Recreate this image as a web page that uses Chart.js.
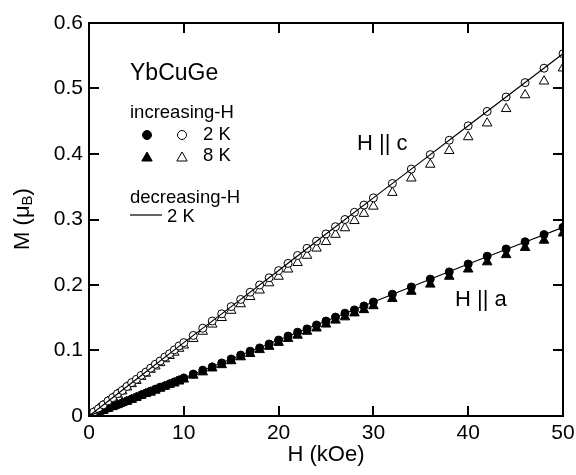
<!DOCTYPE html>
<html>
<head>
<meta charset="utf-8">
<script src="https://cdn.jsdelivr.net/npm/chart.js@4.4.0/dist/chart.umd.min.js"></script>
<style>
  html, body { margin: 0; padding: 0; background: #fff; }
</style>
</head>
<body>
<canvas id="chart-mh" width="576" height="475"></canvas>
<script>
"use strict";

const FONT = "'Liberation Sans', Arial, Helvetica, sans-serif";

/* ==========================================================
   DATA  (M in muB per Yb, H in kOe)
   ========================================================== */
// increasing-H sweep fields
const fieldUp = [
  0, 0.5, 1, 1.5, 2, 2.5, 3, 3.5, 4, 4.5, 5, 5.5, 6, 6.5, 7, 7.5, 8, 8.5, 9, 9.5, 10,
  11, 12, 13, 14, 15, 16, 17, 18, 19, 20, 21, 22, 23, 24, 25, 26, 27, 28, 29, 30,
  32, 34, 36, 38, 40, 42, 44, 46, 48, 50
];

// H || c
const mC2K = [
  0, 0.006, 0.011, 0.017, 0.023, 0.028, 0.034, 0.039, 0.045, 0.051, 0.056, 0.062, 0.067, 0.073, 0.079, 0.084, 0.090, 0.095, 0.101, 0.107, 0.112,
  0.123, 0.134, 0.145, 0.156, 0.167, 0.178, 0.189, 0.200, 0.211, 0.222, 0.233, 0.245, 0.256, 0.267, 0.278, 0.289, 0.300, 0.311, 0.322, 0.333,
  0.355, 0.377, 0.399, 0.421, 0.443, 0.465, 0.487, 0.509, 0.531, 0.553
];
const mC8K = [
  0, 0.005, 0.011, 0.016, 0.022, 0.027, 0.033, 0.038, 0.044, 0.049, 0.054, 0.060, 0.065, 0.071, 0.076, 0.081, 0.087, 0.092, 0.097, 0.103, 0.108,
  0.118, 0.129, 0.140, 0.150, 0.161, 0.171, 0.182, 0.192, 0.203, 0.213, 0.224, 0.234, 0.245, 0.256, 0.266, 0.277, 0.287, 0.298, 0.309, 0.320,
  0.341, 0.363, 0.384, 0.405, 0.426, 0.447, 0.469, 0.490, 0.511, 0.531
];

// H || a
const mA2K = [
  0, 0.003, 0.006, 0.009, 0.012, 0.015, 0.017, 0.020, 0.023, 0.026, 0.029, 0.032, 0.035, 0.038, 0.041, 0.044, 0.046, 0.049, 0.052, 0.055, 0.058,
  0.064, 0.070, 0.075, 0.081, 0.087, 0.093, 0.099, 0.104, 0.110, 0.116, 0.122, 0.128, 0.133, 0.139, 0.145, 0.151, 0.157, 0.162, 0.168, 0.174,
  0.186, 0.197, 0.209, 0.220, 0.232, 0.244, 0.255, 0.266, 0.277, 0.288
];
const mA8K = [
  0, 0.003, 0.006, 0.008, 0.011, 0.014, 0.017, 0.020, 0.022, 0.025, 0.028, 0.031, 0.034, 0.036, 0.039, 0.042, 0.045, 0.048, 0.050, 0.053, 0.056,
  0.062, 0.067, 0.073, 0.078, 0.084, 0.090, 0.095, 0.101, 0.106, 0.112, 0.118, 0.123, 0.129, 0.134, 0.140, 0.146, 0.151, 0.157, 0.162, 0.168,
  0.179, 0.190, 0.201, 0.213, 0.224, 0.235, 0.246, 0.257, 0.268, 0.279
];

// decreasing-H sweep at 2 K (solid lines)
const fieldDown = [0, 5, 10, 15, 20, 25, 30, 35, 40, 45, 50];
const mCdown = [0, 0.056, 0.112, 0.167, 0.222, 0.278, 0.333, 0.388, 0.443, 0.498, 0.553];
const mAdown = [0, 0.029, 0.058, 0.087, 0.116, 0.145, 0.174, 0.203, 0.232, 0.260, 0.288];

const xTicks = [0, 10, 20, 30, 40, 50];
const yTicks = [0, 0.1, 0.2, 0.3, 0.4, 0.5, 0.6];

/* ==========================================================
   HELPERS
   ========================================================== */
function pts(xs, ys) {
  return xs.map((x, i) => ({ x, y: ys[i] }));
}

function markCircle(ctx, x, y, r, filled) {
  ctx.beginPath();
  ctx.arc(x, y, r, 0, Math.PI * 2);
  ctx.fillStyle = filled ? "#000" : "#fff";
  ctx.fill();
  ctx.lineWidth = 1;
  ctx.strokeStyle = "#000";
  ctx.stroke();
}

function markTriangle(ctx, x, y, r, filled) {
  const a = Math.PI * 2 / 3;
  ctx.beginPath();
  for (let i = 0; i < 3; i++) {
    const px = x + Math.sin(i * a) * r;
    const py = y - Math.cos(i * a) * r;
    if (i === 0) ctx.moveTo(px, py); else ctx.lineTo(px, py);
  }
  ctx.closePath();
  ctx.fillStyle = filled ? "#000" : "#fff";
  ctx.fill();
  ctx.lineWidth = 1;
  ctx.strokeStyle = "#000";
  ctx.stroke();
}

function text(ctx, s, x, y, size) {
  ctx.font = `${size}px ${FONT}`;
  ctx.fillStyle = "#000";
  ctx.textAlign = "left";
  ctx.textBaseline = "alphabetic";
  ctx.fillText(s, x, y);
}

function seg(ctx, x1, y1, x2, y2) {
  ctx.beginPath();
  ctx.moveTo(x1, y1);
  ctx.lineTo(x2, y2);
  ctx.stroke();
}

/* ==========================================================
   FRAME, INWARD TICKS, Y TITLE, ANNOTATIONS
   ========================================================== */
const framePlugin = {
  id: "frame",
  afterDraw(chart) {
    const ctx = chart.ctx;
    const a = chart.chartArea;
    const sx = chart.scales.x, sy = chart.scales.y;
    const TL = 10;
    ctx.save();
    ctx.setLineDash([]);
    ctx.strokeStyle = "#000";
    ctx.lineWidth = 2;
    ctx.strokeRect(a.left, a.top, a.right - a.left, a.bottom - a.top);

    ctx.lineWidth = 2;
    for (const v of xTicks) {
      const px = Math.round(sx.getPixelForValue(v));
      seg(ctx, px, a.bottom, px, a.bottom - TL);
      seg(ctx, px, a.top, px, a.top + TL);
    }
    for (const v of yTicks) {
      const py = Math.round(sy.getPixelForValue(v));
      seg(ctx, a.left, py, a.left + TL, py);
      seg(ctx, a.right, py, a.right - TL, py);
    }

    // y title: M (muB), B as subscript
    ctx.translate(23, 219);
    ctx.rotate(-Math.PI / 2);
    ctx.fillStyle = "#000";
    ctx.textBaseline = "middle";
    ctx.textAlign = "left";
    const big = `22px ${FONT}`, small = `15px ${FONT}`;
    ctx.font = big;
    const w1 = ctx.measureText("M (\u03bc").width;
    const w3 = ctx.measureText(")").width;
    ctx.font = small;
    const w2 = ctx.measureText("B").width;
    const x0 = -(w1 + w2 + w3) / 2;
    ctx.font = big;
    ctx.fillText("M (\u03bc", x0, 0);
    ctx.font = small;
    ctx.fillText("B", x0 + w1, 5);
    ctx.font = big;
    ctx.fillText(")", x0 + w1 + w2, 0);
    ctx.restore();

    // annotations
    ctx.save();
    text(ctx, "YbCuGe", 130, 80, 23);
    text(ctx, "increasing-H", 130, 118, 18.5);
    markCircle(ctx, 147, 135, 4.5, true);
    markCircle(ctx, 182, 135, 4.5, false);
    text(ctx, "2 K", 203, 140, 18.5);
    markTriangle(ctx, 147, 158, 6, true);
    markTriangle(ctx, 182, 158, 6, false);
    text(ctx, "8 K", 203, 161, 18.5);
    text(ctx, "decreasing-H", 130, 203, 18.5);
    ctx.lineWidth = 1.2;
    ctx.strokeStyle = "#000";
    seg(ctx, 130, 215, 162, 215);
    text(ctx, "2 K", 167, 222, 18.5);
    text(ctx, "H || c", 357, 150, 22);
    text(ctx, "H || a", 455, 306, 22);
    ctx.restore();
  }
};

/* ==========================================================
   CHART
   ========================================================== */
const lineDs = (data) => ({
  data, showLine: true, borderColor: "#000", borderWidth: 1.2,
  pointRadius: 0, fill: false, tension: 0
});
const markDs = (data, style, filled, r) => ({
  data, showLine: false, pointStyle: style, pointRadius: r,
  pointBorderWidth: 1, pointBorderColor: "#000",
  pointBackgroundColor: filled ? "#000" : "#fff"
});

new Chart(document.getElementById("chart-mh"), {
  type: "scatter",
  data: {
    datasets: [
      lineDs(pts(fieldDown, mCdown)),
      lineDs(pts(fieldDown, mAdown)),
      markDs(pts(fieldUp, mC2K), "circle", false, 4),
      markDs(pts(fieldUp, mA2K), "circle", true, 4),
      markDs(pts(fieldUp, mC8K), "triangle", false, 5.5),
      markDs(pts(fieldUp, mA8K), "triangle", true, 5.5),
    ],
  },
  options: {
    responsive: false,
    animation: false,
    layout: { padding: { top: 23, right: 13, left: 0, bottom: 0 } },
    plugins: {
      legend: { display: false },
      tooltip: { enabled: false },
    },
    scales: {
      x: {
        type: "linear", min: 0, max: 50,
        afterBuildTicks: (s) => { s.ticks = xTicks.map(v => ({ value: v })); },
        grid: { display: false, drawTicks: false },
        border: { display: false },
        ticks: { color: "#000", font: { family: FONT, size: 21 }, padding: 5, maxRotation: 0 },
        title: { display: true, text: "H (kOe)", color: "#000", font: { family: FONT, size: 22 }, padding: { top: 0, bottom: 7 } },
        afterFit: (s) => { s.height = 59; s.paddingLeft = 0; s.paddingRight = 0; },
      },
      y: {
        type: "linear", min: 0, max: 0.6,
        afterBuildTicks: (s) => { s.ticks = yTicks.map(v => ({ value: v })); },
        grid: { display: false, drawTicks: false },
        border: { display: false },
        ticks: {
          color: "#000", font: { family: FONT, size: 21 }, padding: 6,
          callback: (v) => v === 0 ? "0" : v.toFixed(1)
        },
        afterFit: (s) => { s.width = 89; s.paddingTop = 0; s.paddingBottom = 0; },
      },
    },
  },
  plugins: [framePlugin],
});
</script>
</body>
</html>
